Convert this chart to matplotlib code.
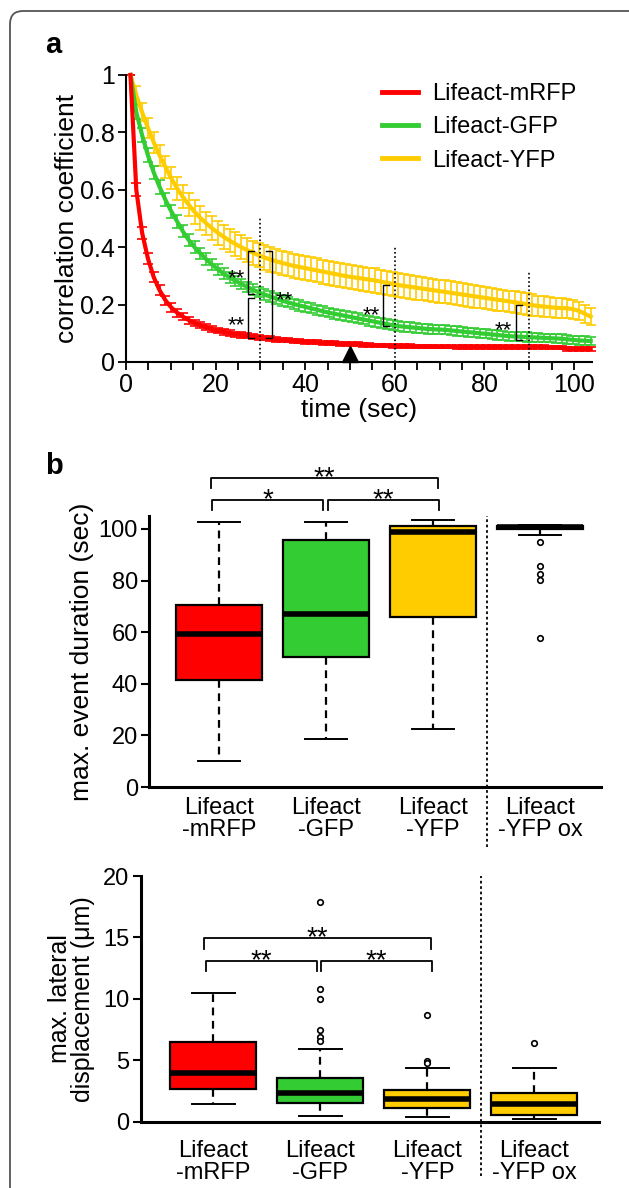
import numpy as np
import matplotlib.pyplot as plt
from matplotlib.lines import Line2D
from matplotlib.patches import FancyBboxPatch

plt.rcParams['font.family'] = ['Liberation Sans', 'DejaVu Sans']

RED = '#ff0000'
GREEN = '#33cc33'
YELLOW = '#ffcc00'

# ---- panel a: correlation coefficient over time (mean +/- sem) ----
time = [1.0, 2.3, 3.6, 4.9, 6.2, 7.5, 8.8, 10.1, 11.4, 12.7,
        14.0, 15.3, 16.6, 17.9, 19.2, 20.5, 21.8, 23.1, 24.4, 25.7,
        27.0, 28.3, 29.6, 30.9, 32.2, 33.5, 34.8, 36.1, 37.4, 38.7,
        40.0, 41.3, 42.6, 43.9, 45.2, 46.5, 47.8, 49.1, 50.4, 51.7,
        53.0, 54.3, 55.6, 56.9, 58.2, 59.5, 60.8, 62.1, 63.4, 64.7,
        66.0, 67.3, 68.6, 69.9, 71.2, 72.5, 73.8, 75.1, 76.4, 77.7,
        79.0, 80.3, 81.6, 82.9, 84.2, 85.5, 86.8, 88.1, 89.4, 90.7,
        92.0, 93.3, 94.6, 95.9, 97.2, 98.5, 99.8, 101.1, 102.4, 103.7]

mrfp_mean = [1.00, 0.60, 0.45, 0.36, 0.295, 0.25, 0.215, 0.19, 0.172, 0.158,
             0.146, 0.136, 0.128, 0.121, 0.115, 0.110, 0.105, 0.101, 0.097, 0.094,
             0.091, 0.088, 0.085, 0.083, 0.081, 0.079, 0.077, 0.075, 0.074, 0.072,
             0.071, 0.070, 0.068, 0.067, 0.066, 0.065, 0.064, 0.063, 0.062, 0.061,
             0.060, 0.059, 0.058, 0.058, 0.057, 0.056, 0.056, 0.055, 0.055, 0.054,
             0.054, 0.054, 0.053, 0.053, 0.053, 0.053, 0.052, 0.052, 0.052, 0.052,
             0.052, 0.052, 0.052, 0.052, 0.052, 0.052, 0.052, 0.052, 0.052, 0.052,
             0.052, 0.052, 0.051, 0.051, 0.050, 0.046, 0.046, 0.046, 0.046, 0.046]
mrfp_sem = [0.000, 0.022, 0.020, 0.019, 0.018, 0.017, 0.016, 0.015, 0.014, 0.013,
            0.012, 0.012, 0.011, 0.011, 0.010, 0.010, 0.010, 0.009, 0.009, 0.009,
            0.009, 0.008, 0.008, 0.008, 0.008, 0.008, 0.007, 0.007, 0.007, 0.007,
            0.007, 0.007, 0.007, 0.007, 0.007, 0.007, 0.007, 0.007, 0.007, 0.007,
            0.007, 0.006, 0.006, 0.006, 0.006, 0.006, 0.006, 0.006, 0.006, 0.006,
            0.006, 0.006, 0.006, 0.006, 0.006, 0.006, 0.006, 0.006, 0.006, 0.006,
            0.006, 0.006, 0.006, 0.006, 0.006, 0.006, 0.006, 0.006, 0.006, 0.006,
            0.006, 0.006, 0.006, 0.006, 0.006, 0.006, 0.006, 0.006, 0.006, 0.006]

gfp_mean = [1.00, 0.87, 0.79, 0.72, 0.66, 0.61, 0.565, 0.525, 0.49, 0.455,
            0.425, 0.40, 0.378, 0.358, 0.34, 0.323, 0.308, 0.295, 0.283, 0.272,
            0.262, 0.252, 0.243, 0.235, 0.228, 0.221, 0.214, 0.208, 0.202, 0.197,
            0.192, 0.187, 0.182, 0.177, 0.172, 0.168, 0.164, 0.160, 0.156, 0.152,
            0.148, 0.144, 0.140, 0.136, 0.132, 0.128, 0.125, 0.123, 0.121, 0.119,
            0.117, 0.115, 0.114, 0.113, 0.112, 0.110, 0.108, 0.106, 0.104, 0.102,
            0.100, 0.098, 0.096, 0.094, 0.092, 0.090, 0.089, 0.088, 0.087, 0.086,
            0.085, 0.084, 0.083, 0.082, 0.081, 0.079, 0.077, 0.075, 0.074, 0.073]
gfp_sem = [0.000, 0.025, 0.025, 0.024, 0.024, 0.023, 0.023, 0.022, 0.022, 0.021,
           0.021, 0.020, 0.020, 0.020, 0.019, 0.019, 0.019, 0.019, 0.018, 0.018,
           0.018, 0.018, 0.018, 0.018, 0.018, 0.018, 0.018, 0.018, 0.018, 0.018,
           0.017, 0.017, 0.017, 0.017, 0.017, 0.017, 0.017, 0.017, 0.017, 0.017,
           0.017, 0.017, 0.017, 0.017, 0.017, 0.017, 0.017, 0.017, 0.017, 0.017,
           0.016, 0.016, 0.016, 0.016, 0.016, 0.016, 0.016, 0.016, 0.016, 0.016,
           0.016, 0.016, 0.016, 0.016, 0.016, 0.016, 0.016, 0.016, 0.016, 0.016,
           0.015, 0.015, 0.015, 0.015, 0.015, 0.015, 0.015, 0.015, 0.015, 0.015]

yfp_mean = [1.00, 0.93, 0.87, 0.815, 0.765, 0.72, 0.68, 0.64, 0.605, 0.575,
            0.548, 0.523, 0.502, 0.483, 0.466, 0.450, 0.436, 0.423, 0.411, 0.400,
            0.390, 0.381, 0.372, 0.364, 0.357, 0.351, 0.345, 0.340, 0.335, 0.331,
            0.327, 0.323, 0.319, 0.315, 0.311, 0.307, 0.303, 0.299, 0.296, 0.293,
            0.290, 0.287, 0.284, 0.280, 0.276, 0.272, 0.268, 0.265, 0.262, 0.259,
            0.256, 0.253, 0.250, 0.247, 0.244, 0.241, 0.238, 0.235, 0.232, 0.229,
            0.226, 0.223, 0.220, 0.217, 0.214, 0.211, 0.208, 0.205, 0.201, 0.198,
            0.195, 0.193, 0.191, 0.189, 0.188, 0.187, 0.184, 0.178, 0.168, 0.158]
yfp_sem = [0.000, 0.030, 0.032, 0.034, 0.036, 0.037, 0.038, 0.039, 0.040, 0.040,
           0.041, 0.041, 0.041, 0.041, 0.041, 0.041, 0.041, 0.041, 0.041, 0.041,
           0.042, 0.042, 0.042, 0.042, 0.042, 0.042, 0.042, 0.042, 0.042, 0.042,
           0.042, 0.042, 0.042, 0.042, 0.042, 0.042, 0.042, 0.042, 0.042, 0.042,
           0.042, 0.042, 0.042, 0.042, 0.042, 0.042, 0.042, 0.042, 0.042, 0.042,
           0.040, 0.040, 0.040, 0.040, 0.040, 0.040, 0.040, 0.040, 0.040, 0.040,
           0.038, 0.038, 0.038, 0.038, 0.038, 0.038, 0.038, 0.038, 0.038, 0.038,
           0.036, 0.036, 0.035, 0.035, 0.035, 0.034, 0.033, 0.032, 0.031, 0.030]

series_labels = ['Lifeact-mRFP', 'Lifeact-GFP', 'Lifeact-YFP']

# time points compared, their dotted guide heights, and the significance brackets
compare_times = [30, 60, 90]
guide_tops = [0.50, 0.40, 0.315]
# (x, y_bottom, y_top, tick direction)
a_brackets = [(27.2, 0.236, 0.388, 1), (27.2, 0.083, 0.222, 1), (32.6, 0.083, 0.388, -1),
              (57.4, 0.127, 0.267, 1), (87.0, 0.077, 0.200, 1)]
a_stars = [(24.7, 0.318), (24.7, 0.153), (35.3, 0.239), (54.8, 0.188), (84.1, 0.135)]
arrow_time = 50

# ---- panel b: box plot statistics ----
box_labels = ['Lifeact\n-mRFP', 'Lifeact\n-GFP', 'Lifeact\n-YFP', 'Lifeact\n-YFP ox']
box_colors = [RED, GREEN, YELLOW, YELLOW]

dur_q1 = [41.5, 50.3, 66.0, 100.0]
dur_med = [59.2, 67.0, 98.8, 100.6]
dur_q3 = [70.6, 95.6, 101.2, 101.3]
dur_lo = [10.0, 18.6, 22.5, 97.7]
dur_hi = [102.7, 102.7, 103.6, 101.7]
dur_fliers = [[], [], [], [94.8, 85.6, 82.4, 80.4, 57.8]]

disp_q1 = [2.63, 1.55, 1.09, 0.54]
disp_med = [3.93, 2.31, 1.82, 1.44]
disp_q3 = [6.51, 3.53, 2.58, 2.31]
disp_lo = [1.41, 0.46, 0.41, 0.19]
disp_hi = [10.45, 5.94, 4.34, 4.37]
disp_fliers = [[], [17.86, 10.8, 9.99, 7.46, 6.92, 6.57], [8.68, 4.97, 4.8], [6.38]]

# (x_left, x_right, y_line, y_legs, label)
dur_brackets = [(0.925, 3.044, 119.8, 116.0, '**'),
                (0.935, 1.972, 111.2, 107.4, '*'),
                (2.016, 3.056, 111.2, 107.4, '**')]
disp_brackets = [(0.916, 3.035, 14.93, 14.06, '**'),
                 (0.929, 1.972, 13.10, 12.30, '**'),
                 (2.007, 3.047, 13.10, 12.30, '**')]

fig = plt.figure(figsize=(6.29, 11.88), dpi=100)

# outer rounded frame running off the right and bottom edges
frame = FancyBboxPatch((0.10, -1.0), 7.0, 12.77, boxstyle='round,pad=0,rounding_size=0.13',
                       transform=fig.dpi_scale_trans, facecolor='none',
                       edgecolor='#555555', linewidth=1.3)
fig.patches.append(frame)

fig.text(0.072, 0.962, 'a', fontsize=21, fontweight='bold', ha='left', va='center')
fig.text(0.072, 0.608, 'b', fontsize=21, fontweight='bold', ha='left', va='center')

# ===== panel a =====
ax = fig.add_axes([0.2003, 0.6953, 0.7409, 0.2416])
for mean, sem, col in [(yfp_mean, yfp_sem, YELLOW), (gfp_mean, gfp_sem, GREEN),
                       (mrfp_mean, mrfp_sem, RED)]:
    ax.errorbar(time, mean, yerr=sem, color=col, lw=3, elinewidth=1.2,
                capsize=3.6, capthick=1.2, clip_on=False)

ax.vlines(compare_times, 0, guide_tops, colors='black', linestyles=(0, (1, 1.5)), lw=1.2, zorder=5)
for x, y0, y1, d in a_brackets:
    ax.plot([x + 1.4 * d, x, x, x + 1.4 * d], [y1, y1, y0, y0], color='black', lw=1.0, zorder=6)
for x, y in a_stars:
    ax.annotate('**', (x, y), xytext=(0, -9.5), textcoords='offset points',
                ha='center', va='baseline', fontsize=16)
ax.plot([arrow_time], [0.029], marker='^', ms=11, color='black', clip_on=False, zorder=7)

ax.set_xlim(0, 104)
ax.set_ylim(0, 1)
ax.set_xticks([0, 20, 40, 60, 80, 100])
ax.set_xticks(np.arange(0, 105, 5), minor=True)
ax.set_yticks([0, 0.2, 0.4, 0.6, 0.8, 1])
ax.set_yticklabels(['0', '0.2', '0.4', '0.6', '0.8', '1'])
ax.tick_params(which='both', direction='out', length=6, width=1.3, labelsize=18, pad=2)
for s in ['top', 'right']:
    ax.spines[s].set_visible(False)
for s in ['left', 'bottom']:
    ax.spines[s].set_linewidth(1.5)
ax.set_xlabel('time (sec)', fontsize=19, labelpad=1)
ax.set_ylabel('correlation coefficient', fontsize=19, labelpad=1)

handles = [Line2D([], [], color=c, lw=3.5) for c in [RED, GREEN, YELLOW]]
ax.legend(handles, series_labels, loc='upper left', bbox_to_anchor=(0.549, 0.972), frameon=False,
          fontsize=17, handlelength=1.55, handletextpad=0.6, labelspacing=0.48,
          borderpad=0, borderaxespad=0)


def draw_boxes(ax, q1, med, q3, lo, hi, fliers):
    stats = [dict(q1=a, med=m, q3=b, whislo=l, whishi=h, fliers=f)
             for a, m, b, l, h, f in zip(q1, med, q3, lo, hi, fliers)]
    bp = ax.bxp(stats, positions=[1, 2, 3, 4], widths=0.8, capwidths=0.4, patch_artist=True,
                boxprops=dict(edgecolor='black', linewidth=1.6),
                medianprops=dict(color='black', linewidth=4),
                whiskerprops=dict(color='black', linestyle=(0, (3.5, 2.5)), linewidth=1.6),
                capprops=dict(color='black', linewidth=1.4),
                flierprops=dict(marker='o', markersize=4, markerfacecolor='white',
                                markeredgecolor='black', markeredgewidth=1.2))
    for patch, c in zip(bp['boxes'], box_colors):
        patch.set_facecolor(c)
    for art in bp['caps'] + bp['whiskers'] + bp['fliers']:
        art.set_clip_on(False)


def draw_sig(ax, brackets, fs):
    for x0, x1, y, yl, lab in brackets:
        ax.plot([x0, x0, x1, x1], [yl, y, y, yl], color='black', lw=1.3, clip_on=False)
        ax.annotate(lab, ((x0 + x1) / 2, y), xytext=(0, -5), textcoords='offset points',
                    ha='center', va='baseline', fontsize=fs, annotation_clip=False)


def style_box_axes(ax, pad):
    ax.set_xticks([1, 2, 3, 4])
    ax.set_xticklabels(box_labels, linespacing=1.0)
    ax.tick_params(axis='x', length=0, labelsize=17, pad=pad)
    ax.tick_params(axis='y', direction='out', length=6, width=1.5, labelsize=17, pad=2)
    for s in ['top', 'right']:
        ax.spines[s].set_visible(False)
    for s in ['left', 'bottom']:
        ax.spines[s].set_linewidth(2.2)
    ax.plot([3.505, 3.505], [-0.22, 1.0], color='black', lw=1.3, linestyle=(0, (1.5, 1.5)),
            transform=ax.get_xaxis_transform(), clip_on=False)


# ===== panel b: event duration =====
ax = fig.add_axes([0.2369, 0.3375, 0.7186, 0.2281])
draw_boxes(ax, dur_q1, dur_med, dur_q3, dur_lo, dur_hi, dur_fliers)
draw_sig(ax, dur_brackets, 20)
ax.set_xlim(0.346, 4.570)
ax.set_ylim(0, 105)
ax.set_yticks([0, 20, 40, 60, 80, 100])
style_box_axes(ax, 7)
ax.set_ylabel('max. event duration (sec)', fontsize=19, labelpad=3)

# ===== panel b: lateral displacement =====
ax = fig.add_axes([0.2237, 0.0558, 0.7286, 0.2068])
draw_boxes(ax, disp_q1, disp_med, disp_q3, disp_lo, disp_hi, disp_fliers)
draw_sig(ax, disp_brackets, 20)
ax.set_xlim(0.322, 4.605)
ax.set_ylim(0, 20)
ax.set_yticks([0, 5, 10, 15, 20])
style_box_axes(ax, 13)
ax.set_ylabel('max. lateral\ndisplacement (\u03bcm)', fontsize=18, linespacing=0.95, labelpad=6)

fig.savefig('out.png', dpi=100)
